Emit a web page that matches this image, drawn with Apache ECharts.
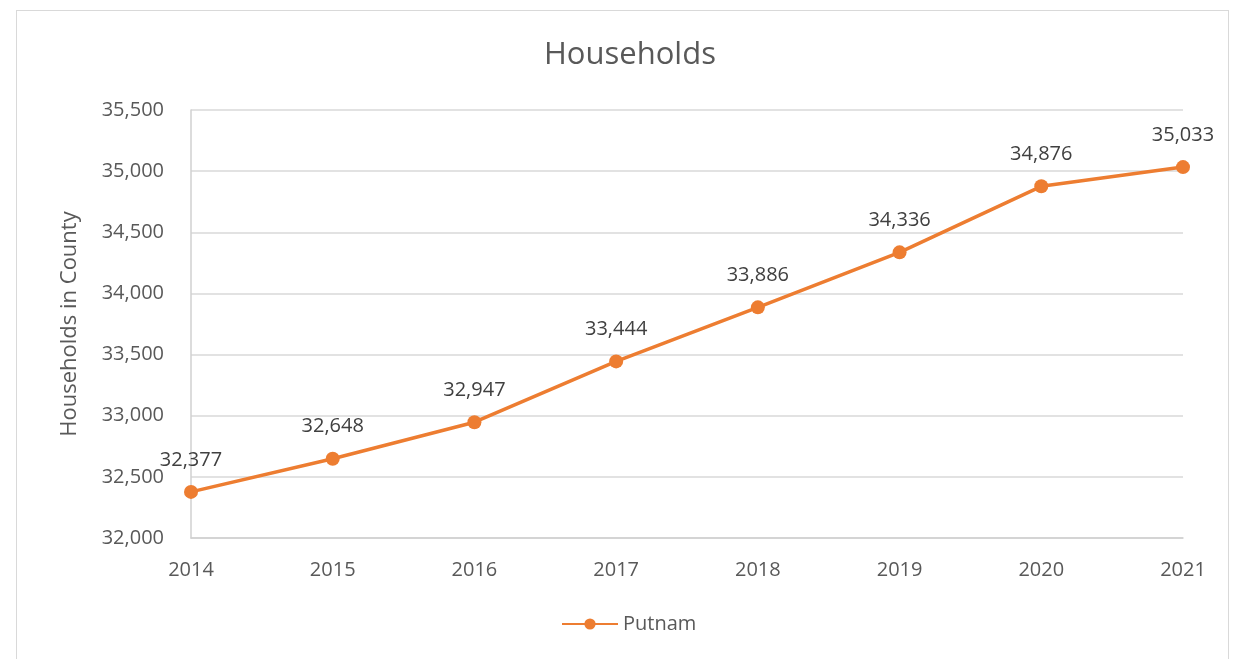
<!DOCTYPE html>
<html>
<head>
<meta charset="utf-8">
<script src="https://cdn.jsdelivr.net/npm/echarts@6/dist/echarts.min.js"></script>
<style>
  html, body { margin: 0; padding: 0; background: #ffffff; overflow: hidden; }
  /* chart frame */
  #frame {
    position: absolute;
    left: 16px;
    top: 10px;
    width: 1213px;
    height: 670px;
    border: 1.5px solid #d9d9d9;
    box-sizing: border-box;
  }
  #chart { width: 100%; height: 100%; }
</style>
</head>
<body>
<div id="frame"><div id="chart"></div></div>
<script>
const years = ['2014', '2015', '2016', '2017', '2018', '2019', '2020', '2021'];
const putnam = [32377, 32648, 32947, 33444, 33886, 34336, 34876, 35033];

const fontFamily = '"Open Sans", "Noto Sans", sans-serif';
const textColor = '#595959';
const fmt = v => v.toLocaleString('en-US');

const chart = echarts.init(document.getElementById('chart'));
const option = {
  animation: false,
  textStyle: { fontFamily: fontFamily },
  title: {
    text: 'Households',
    left: 522,
    top: 24,
    textStyle: { fontSize: 31, fontWeight: 'normal', color: textColor, fontFamily: fontFamily }
  },
  legend: {
    data: ['Putnam'],
    left: 539,
    top: 598,
    itemWidth: 56,
    itemHeight: 14,
    textStyle: { fontSize: 20, color: textColor, fontFamily: fontFamily }
  },
  grid: { left: 174, right: 45, top: 99, bottom: 141 },
  xAxis: {
    type: 'category',
    data: years,
    boundaryGap: false,
    axisLine: { lineStyle: { color: '#d0d0d0', width: 1.5 } },
    axisTick: { show: false },
    axisLabel: { fontSize: 20, color: textColor, margin: 22 }
  },
  yAxis: {
    type: 'value',
    min: 32000,
    max: 35500,
    interval: 500,
    name: 'Households in County',
    nameLocation: 'middle',
    nameGap: 110,
    nameTextStyle: { fontSize: 22, color: textColor },
    axisLine: { show: true, lineStyle: { color: '#d0d0d0', width: 1.5 } },
    axisTick: { show: false },
    axisLabel: { fontSize: 20, color: textColor, margin: 27, formatter: fmt },
    splitLine: { lineStyle: { color: '#d9d9d9', width: 1.5 } }
  },
  series: [{
    name: 'Putnam',
    type: 'line',
    data: putnam,
    symbol: 'circle',
    symbolSize: 14,
    itemStyle: { color: '#ed7d31' },
    lineStyle: { color: '#ed7d31', width: 3.5 },
    label: {
      show: true,
      position: 'top',
      distance: 15,
      fontSize: 20,
      color: '#404040',
      formatter: p => fmt(p.value)
    }
  }]
};
option && chart.setOption(option);
</script>
</body>
</html>
